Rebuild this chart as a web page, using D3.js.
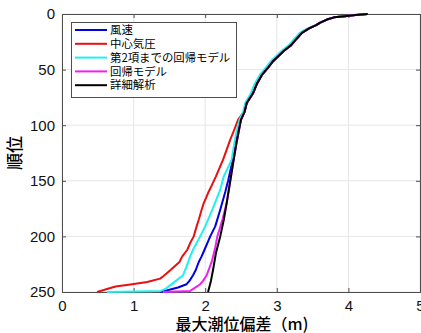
<!DOCTYPE html>
<html><head><meta charset="utf-8">
<script src="https://cdn.jsdelivr.net/npm/d3@7"></script>
<style>
html,body{margin:0;padding:0;background:#fff;}
svg{display:block;}
text{font-family:"Liberation Sans","Noto Sans CJK JP",sans-serif;}
.jp{font-family:"Noto Sans CJK JP","Liberation Sans",sans-serif;}
</style></head>
<body>
<svg id="c" width="421" height="333"></svg>
<script>
// ---- data ----
const xTicks = [0, 1, 2, 3, 4, 5];
const yTicks = [0, 50, 100, 150, 200, 250];
const seriesNames = ["風速", "中心気圧", "第2項までの回帰モデル", "回帰モデル", "詳細解析"];
const seriesColors = ["#0000e0", "#e81010", "#20f0f0", "#f020f0", "#000000"];

const windRank = [0,1,2,3,5,8,10,13,17,22,28,33,38,43,48,55,63,71,80,88,95,105,115,130,150,160,176,191,200,206,212,218,223,230,235,240,243,246,248,250];
const windVal  = [4.27,4.10,3.95,3.80,3.70,3.60,3.55,3.45,3.35,3.28,3.20,3.10,3.02,2.94,2.88,2.79,2.72,2.67,2.58,2.55,2.50,2.46,2.43,2.39,2.32,2.28,2.21,2.14,2.07,2.03,1.99,1.95,1.91,1.87,1.83,1.78,1.74,1.62,1.50,1.37];

const presRank = [0,1,2,3,5,8,10,13,17,22,28,33,38,43,48,55,63,71,80,88,95,105,113,122,131,140,146,153,161,170,176,185,191,200,206,212,218,223,230,236,238,241,243,245,246,250];
const presVal  = [4.27,4.10,3.95,3.80,3.70,3.60,3.55,3.45,3.35,3.28,3.20,3.10,3.02,2.94,2.88,2.79,2.72,2.67,2.58,2.54,2.46,2.40,2.35,2.30,2.25,2.19,2.15,2.10,2.04,1.98,1.95,1.91,1.88,1.84,1.79,1.75,1.68,1.64,1.52,1.41,1.37,1.19,0.98,0.75,0.70,0.49];

const reg2Rank = [0,1,2,3,5,8,10,13,17,22,28,33,38,43,48,55,63,71,80,88,95,105,115,131,146,158,176,191,200,206,212,218,227,235,242,247,249,250];
const reg2Val  = [4.27,4.10,3.95,3.80,3.70,3.60,3.54,3.43,3.32,3.25,3.17,3.07,2.99,2.91,2.85,2.76,2.69,2.64,2.56,2.53,2.48,2.44,2.41,2.37,2.26,2.21,2.10,2.00,1.93,1.88,1.83,1.79,1.74,1.69,1.55,1.45,1.38,0.63];

const regRank = [0,1,2,3,5,8,10,13,17,22,28,33,38,43,48,55,63,71,80,88,95,105,115,130,150,170,185,200,210,218,223,235,240,243,246,249,250];
const regVal  = [4.27,4.10,3.95,3.80,3.70,3.60,3.55,3.45,3.35,3.28,3.20,3.10,3.02,2.94,2.88,2.79,2.72,2.67,2.58,2.55,2.50,2.47,2.44,2.40,2.35,2.30,2.24,2.17,2.14,2.11,2.09,2.02,1.97,1.93,1.86,1.79,1.41];

const detRank = [0,1,2,3,5,8,10,13,17,22,28,33,38,43,48,55,63,71,80,88,95,105,115,130,150,170,185,200,215,230,240,250];
const detVal  = [4.27,4.10,3.95,3.80,3.70,3.60,3.55,3.45,3.35,3.28,3.20,3.10,3.02,2.94,2.88,2.79,2.72,2.67,2.58,2.55,2.50,2.47,2.44,2.40,2.35,2.30,2.26,2.21,2.15,2.11,2.08,2.04];

const seriesRanks = [windRank, presRank, reg2Rank, regRank, detRank];
const seriesVals  = [windVal, presVal, reg2Val, regVal, detVal];

// ---- layout ----
const L = 62, R = 420, T = 14, B = 292;
const x = d3.scaleLinear().domain([0, 5]).range([L, R]);
const y = d3.scaleLinear().domain([0, 250]).range([T, B]);
const svg = d3.select("#c");

// grid
svg.append("g").selectAll("line").data(xTicks).join("line")
  .attr("x1", d => x(d)).attr("x2", d => x(d)).attr("y1", T).attr("y2", B)
  .attr("stroke", "#e6e6e6").attr("stroke-width", 1);
svg.append("g").selectAll("line").data(yTicks).join("line")
  .attr("y1", d => y(d)).attr("y2", d => y(d)).attr("x1", L).attr("x2", R)
  .attr("stroke", "#e6e6e6").attr("stroke-width", 1);

// axes
const ax = svg.append("g").attr("transform", `translate(0,${B})`)
  .call(d3.axisBottom(x).tickValues(xTicks).tickSize(-4).tickPadding(8).tickFormat(d3.format("d")));
const ay = svg.append("g").attr("transform", `translate(${L},0)`)
  .call(d3.axisLeft(y).tickValues(yTicks).tickSize(-4).tickPadding(7).tickFormat(d3.format("d")));
const axT = svg.append("g").attr("transform", `translate(0,${T})`)
  .call(d3.axisTop(x).tickValues(xTicks).tickSize(-4).tickFormat(""));
const ayR = svg.append("g").attr("transform", `translate(${R},0)`)
  .call(d3.axisRight(y).tickValues(yTicks).tickSize(-4).tickFormat(""));
[ax, ay, axT, ayR].forEach(g => {
  g.select(".domain").attr("stroke", "#4d4d4d");
  g.selectAll(".tick line").attr("stroke", "#4d4d4d");
  g.selectAll(".tick text").attr("fill", "#111").style("font-size", "15px")
    .style("font-family", "'Liberation Sans', sans-serif");
});

// lines
const line = d3.line().x(d => x(d[1])).y(d => y(d[0]));
seriesNames.forEach((n, i) => {
  const pts = seriesRanks[i].map((r, j) => [r, seriesVals[i][j]]);
  svg.append("path").datum(pts).attr("d", line)
    .attr("fill", "none").attr("stroke", seriesColors[i])
    .attr("stroke-width", 2).attr("stroke-linejoin", "round");
});

// legend
const lg = svg.append("g");
lg.append("rect").attr("x", 71.5).attr("y", 22.5).attr("width", 165).attr("height", 75)
  .attr("fill", "#fff").attr("stroke", "#4d4d4d").attr("stroke-width", 1);
seriesNames.forEach((n, i) => {
  const yy = 30 + i * 13.8;
  lg.append("line").attr("x1", 75).attr("x2", 107).attr("y1", yy).attr("y2", yy)
    .attr("stroke", seriesColors[i]).attr("stroke-width", 2);
  lg.append("text").attr("class", "jp").attr("x", 110).attr("y", yy).attr("dy", "0.36em")
    .style("font-size", "11.4px").attr("fill", "#000").text(n);
});

// labels
svg.append("text").attr("class", "jp").attr("x", 242).attr("y", 330)
  .attr("text-anchor", "middle").style("font-size", "16px").style("font-weight", "500").attr("fill", "#000")
  .text("最大潮位偏差（m)");
svg.append("text").attr("class", "jp")
  .attr("transform", "translate(21,153) rotate(-90)")
  .attr("text-anchor", "middle").style("font-size", "17px").style("font-weight", "500").attr("fill", "#000")
  .text("順位");
</script>
</body></html>
